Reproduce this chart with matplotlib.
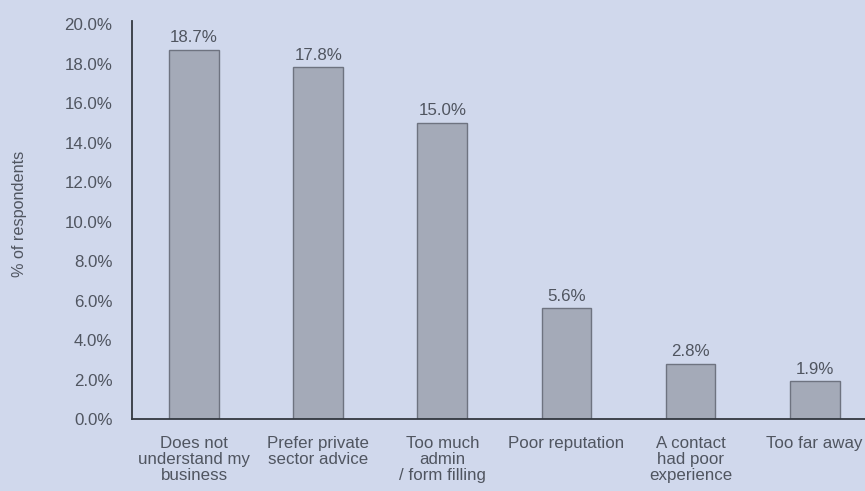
import numpy as np
import matplotlib.pyplot as plt

# Reasons for not using the service
categories = ["Does not\nunderstand my\nbusiness", "Prefer private\nsector advice",
              "Too much\nadmin\n/ form filling", "Poor reputation",
              "A contact\nhad poor\nexperience", "Too far away"]
values = [18.7, 17.8, 15.0, 5.6, 2.8, 1.9]
yticks = [0, 2, 4, 6, 8, 10, 12, 14, 16, 18, 20]

bg = "#d0d8ec"
txt = "#505560"
fs = 12.2

plt.rcParams['font.family'] = ['Liberation Sans', 'DejaVu Sans']

fig = plt.figure(figsize=(8.65, 4.91), dpi=100, facecolor=bg)
ax = fig.add_axes([0.1526, 0.1466, 0.861, 0.8105])
ax.set_facecolor(bg)

x = np.arange(len(categories))
ax.bar(x, values, width=0.4, color="#a4aab8", edgecolor="#6e7380", linewidth=1.0)

for xi, v in zip(x, values):
    ax.text(xi, v + 0.22, f"{v:.1f}%", ha="center", va="bottom", fontsize=fs, color=txt)

ax.set_xlim(-0.5, len(categories) - 0.5)
ax.set_ylim(0, 20.15)
ax.set_yticks(yticks)
ax.set_yticklabels([f"{t:.1f}%" for t in yticks], fontsize=fs, color=txt)
ax.set_xticks(x)
ax.set_xticklabels(categories, fontsize=fs, color=txt, linespacing=1.08)
ax.tick_params(axis="both", length=0)
ax.tick_params(axis="y", pad=14)
ax.tick_params(axis="x", pad=12)

for s in ["top", "right"]:
    ax.spines[s].set_visible(False)
ax.spines["left"].set_color("#333840")
ax.spines["bottom"].set_color("#333840")
ax.spines["left"].set_linewidth(1.3)
ax.spines["bottom"].set_linewidth(1.3)

fig.text(0.022, 0.565, "% of respondents", rotation=90, ha="center", va="center",
         fontsize=fs - 0.5, color=txt)

fig.savefig("out.png", dpi=100, facecolor=bg)
